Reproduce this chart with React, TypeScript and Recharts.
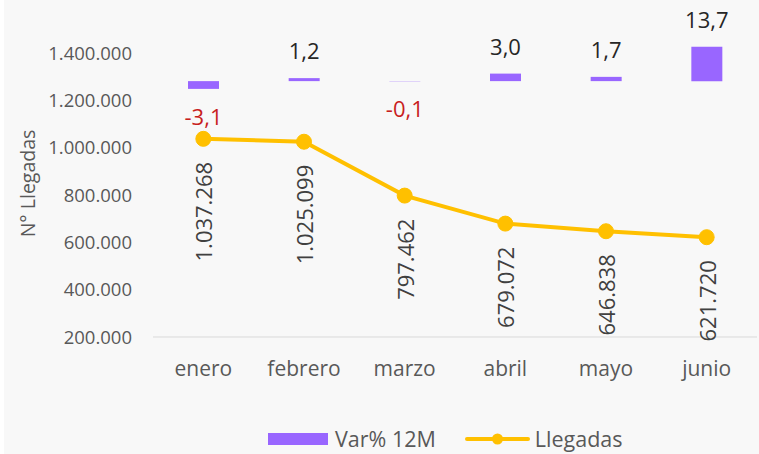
import React from 'react';
import { ComposedChart, Bar, Line, XAxis, YAxis, LabelList, Legend } from 'recharts';

const months = ['enero', 'febrero', 'marzo', 'abril', 'mayo', 'junio'];
const llegadas = [1037268, 1025099, 797462, 679072, 646838, 621720];
const varPct = [-3.1, 1.2, -0.1, 3.0, 1.7, 13.7];
const yTicks = [200000, 400000, 600000, 800000, 1000000, 1200000, 1400000];

const data = months.map((m, i) => ({ mes: m, llegadas: llegadas[i], varPct: varPct[i] }));

const FONT = '"Open Sans", sans-serif';
const BAR_COLOR = '#9966ff';
const LINE_COLOR = '#ffc000';

const fmtThousands = (n: number) => String(Math.round(n)).replace(/\B(?=(\d{3})+(?!\d))/g, '.');
const fmtPct = (v: number) => v.toFixed(1).replace('.', ',');

const BarLabel = (props: any) => {
  const { x, y, width, height, value } = props;
  const top = Math.min(y, y + height);
  const bottom = Math.max(y, y + height);
  const cx = x + width / 2;
  if (value < 0) {
    return (
      <text x={cx} y={bottom + 36} textAnchor="middle" fill="#c81e1e" fontSize={22} fontFamily={FONT}>
        {fmtPct(value)}
      </text>
    );
  }
  return (
    <text x={cx} y={top - 19} textAnchor="middle" fill="#262626" fontSize={22} fontFamily={FONT}>
      {fmtPct(value)}
    </text>
  );
};

const LineLabel = (props: any) => {
  const { x, y, value } = props;
  const bx = x + 9;
  const by = y + 23;
  return (
    <text
      x={bx}
      y={by}
      transform={`rotate(-90 ${bx} ${by})`}
      textAnchor="end"
      fill="#404040"
      fontSize={22}
      fontFamily={FONT}
    >
      {fmtThousands(value)}
    </text>
  );
};

const YTitle = (props: any) => {
  const { viewBox } = props;
  const x = 27;
  const y = viewBox.y + viewBox.height / 2 - 7;
  return (
    <text x={x} y={y} transform={`rotate(-90 ${x} ${y})`} textAnchor="middle" dominantBaseline="central" fill="#595959" fontSize={19.5} fontFamily={FONT}>
      N° Llegadas
    </text>
  );
};

const renderLegend = () => (
  <div style={{ display: 'flex', alignItems: 'center', fontFamily: FONT, fontSize: 21.5, color: '#595959', paddingLeft: 268, height: 24, whiteSpace: 'nowrap' }}>
    <svg width={60} height={12} style={{ display: 'block' }}>
      <rect x={0} y={0} width={60} height={12} fill={BAR_COLOR} />
    </svg>
    <span style={{ marginLeft: 7, lineHeight: '24px' }}>Var% 12M</span>
    <svg width={65} height={12} style={{ display: 'block', marginLeft: 29 }}>
      <line x1={2} y1={6} x2={63} y2={6} stroke={LINE_COLOR} strokeWidth={4} strokeLinecap="round" />
      <circle cx={32.5} cy={6} r={5.5} fill={LINE_COLOR} />
    </svg>
    <span style={{ marginLeft: 5, lineHeight: '24px' }}>Llegadas</span>
  </div>
);

export default function App() {
  return (
    <div style={{ position: 'absolute', left: 0, top: 0, width: 759, height: 454, background: '#ffffff', overflow: 'hidden' }}>
      <div style={{ position: 'absolute', left: 4, top: 0, right: 0, bottom: 0, background: '#f8f8f8' }} />
      <div style={{ position: 'absolute', left: 0, top: 0 }}>
        <ComposedChart width={759} height={454} data={data} margin={{ top: 44, right: 2, bottom: 87, left: 0 }} barCategoryGap={0}>
          <XAxis
            dataKey="mes"
            height={30}
            axisLine={{ stroke: '#d9d9d9' }}
            tickLine={false}
            tickSize={0}
            tickMargin={24}
            tick={{ fill: '#595959', fontSize: 21, fontFamily: FONT }}
            interval={0}
          />
          <YAxis
            yAxisId="left"
            width={153}
            domain={[200000, 1438000]}
            ticks={yTicks}
            allowDataOverflow
            axisLine={false}
            tickLine={false}
            tickSize={0}
            tickMargin={21}
            tickFormatter={fmtThousands}
            tick={{ fill: '#595959', fontSize: 18.5, fontFamily: FONT }}
            label={<YTitle />}
          />
          <YAxis yAxisId="right" orientation="right" hide domain={[-102, 14.8]} allowDataOverflow />
          <Bar yAxisId="right" dataKey="varPct" name="Var% 12M" fill={BAR_COLOR} barSize={31} isAnimationActive={false}>
            <LabelList dataKey="varPct" content={<BarLabel />} />
          </Bar>
          <Line
            yAxisId="left"
            type="linear"
            dataKey="llegadas"
            name="Llegadas"
            stroke={LINE_COLOR}
            strokeWidth={4}
            dot={{ r: 7.5, fill: LINE_COLOR, stroke: LINE_COLOR, strokeWidth: 1 }}
            activeDot={false}
            isAnimationActive={false}
          >
            <LabelList dataKey="llegadas" content={<LineLabel />} />
          </Line>
          <Legend
            layout="vertical"
            align="center"
            verticalAlign="middle"
            content={renderLegend}
            wrapperStyle={{ top: 427, left: 0, width: 759, height: 0, overflow: 'visible' }}
          />
        </ComposedChart>
      </div>
    </div>
  );
}
